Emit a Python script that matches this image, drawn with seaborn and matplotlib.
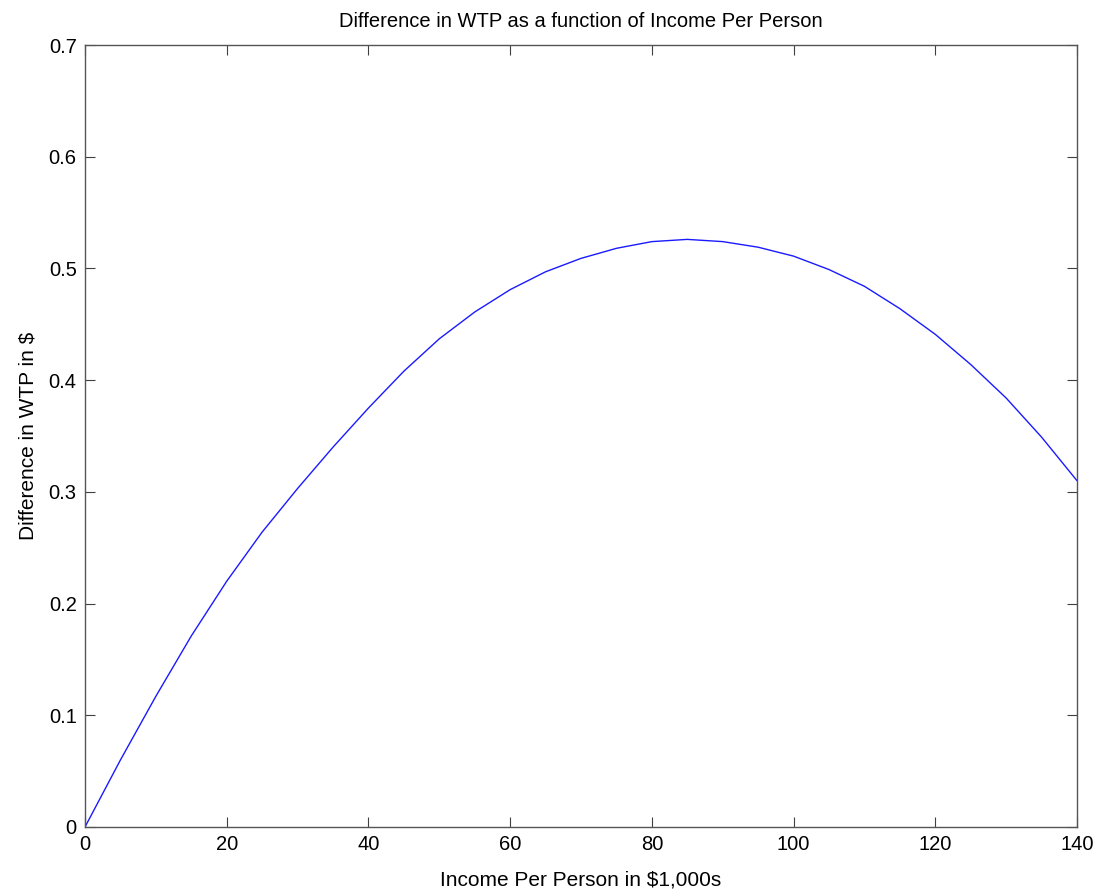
import numpy as np
import pandas as pd
import matplotlib
matplotlib.use('Agg')
import matplotlib.pyplot as plt
import seaborn as sns

# values
income = [0, 5, 10, 15, 20, 25, 30, 35, 40, 45, 50, 55, 60, 65, 70,
          75, 80, 85, 90, 95, 100, 105, 110, 115, 120, 125, 130, 135, 140]
wtp_diff = [0.0, 0.060, 0.117, 0.171, 0.22, 0.264, 0.303, 0.340, 0.375, 0.408,
            0.437, 0.461, 0.481, 0.497, 0.509, 0.518, 0.524, 0.526, 0.524,
            0.519, 0.511, 0.499, 0.484, 0.464, 0.441, 0.414, 0.384, 0.349, 0.31]
xticks = [0, 20, 40, 60, 80, 100, 120, 140]
yticks = [0, 0.1, 0.2, 0.3, 0.4, 0.5, 0.6, 0.7]


def main():
    sns.set_style('ticks', {'xtick.direction': 'in', 'ytick.direction': 'in'})
    plt.rcParams['font.family'] = ['Liberation Sans', 'DejaVu Sans']
    plt.rcParams['text.color'] = 'black'
    plt.rcParams['axes.labelcolor'] = 'black'

    df = pd.DataFrame({'income': income, 'wtp': wtp_diff})

    fig = plt.figure(figsize=(11.07, 8.94), dpi=100)
    ax = fig.add_axes([85/1107, 1 - 827/894, 992/1107, 782/894])
    sns.lineplot(data=df, x='income', y='wtp', ax=ax, color='#1a1aff', linewidth=1.0)

    ax.set_xlim(0, 140)
    ax.set_ylim(0, 0.7)
    ax.set_xticks(xticks)
    ax.set_yticks(yticks)
    ax.set_xticklabels(['%g' % t for t in xticks])
    ax.set_yticklabels(['%g' % t for t in yticks])
    ax.tick_params(which='both', direction='in', length=7, width=0.8,
                   colors='#404040', labelcolor='black', labelsize=14.5,
                   top=True, right=True, pad=6)
    for s in ax.spines.values():
        s.set_color('#555555')
        s.set_linewidth(1.0)

    ax.set_xlabel('Income Per Person in $1,000s', fontsize=15, labelpad=12)
    ax.set_ylabel('Difference in WTP in $', fontsize=15, labelpad=8)
    ax.set_title('Difference in WTP as a function of Income Per Person', fontsize=14.5, pad=13)

    plt.savefig('out.png', dpi=100)


if __name__ == "__main__":
    main()
